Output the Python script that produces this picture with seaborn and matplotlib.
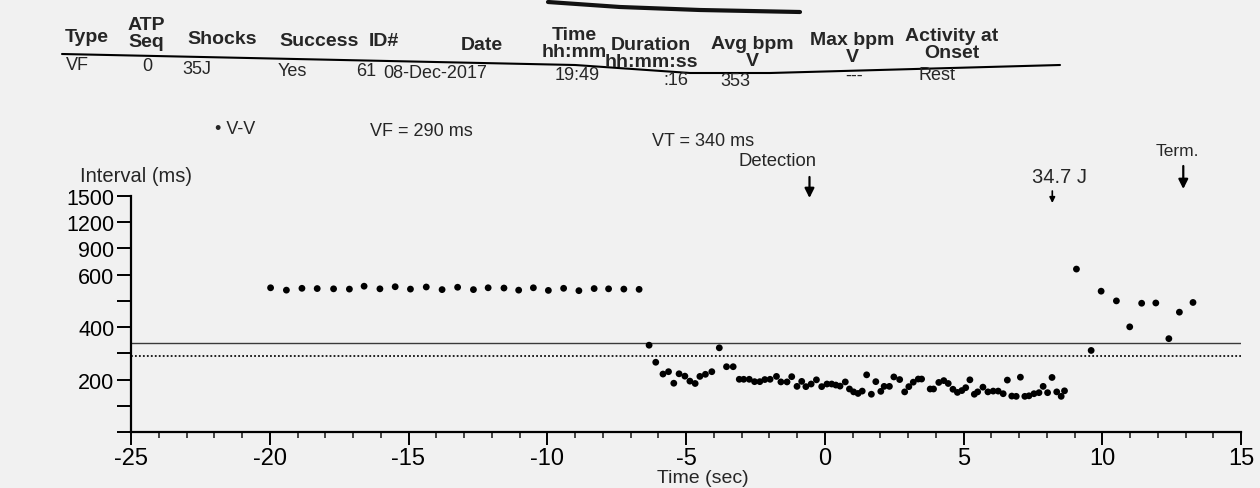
import numpy as np
import pandas as pd
import matplotlib
matplotlib.use("Agg")
import matplotlib.pyplot as plt
import seaborn as sns
from matplotlib.ticker import MultipleLocator, FixedLocator

# ---------------- data ----------------
# pre-episode (sinus) V-V intervals
sinus_t = [-19.97, -19.40, -18.84, -18.29, -17.70, -17.13, -16.60, -16.03, -15.48, -14.93,
           -14.36, -13.79, -13.23, -12.66, -12.13, -11.56, -11.03, -10.50, -9.96, -9.41,
           -8.86, -8.31, -7.79, -7.24, -6.69]
sinus_v = [550, 541, 548, 547, 546, 545, 556, 546, 554, 545,
           553, 543, 552, 543, 550, 549, 541, 550, 540, 548,
           539, 547, 546, 545, 544]

# episode V-V intervals
vt_t = [-6.33, -6.09, -5.83, -5.63, -5.44, -5.25, -5.04, -4.86, -4.67, -4.50,
        -4.30, -4.07, -3.80, -3.54, -3.30, -3.08, -2.92, -2.72, -2.53, -2.34,
        -2.16, -1.97, -1.74, -1.58, -1.36, -1.19, -1.00, -0.83, -0.68, -0.49,
        -0.30, -0.11, 0.08,
        0.25, 0.40, 0.55, 0.74, 0.89, 1.04, 1.20, 1.35, 1.51, 1.68,
        1.84, 2.02, 2.14, 2.33, 2.49, 2.70, 2.88, 3.03, 3.19, 3.37,
        3.49, 3.80, 3.92, 4.11, 4.29, 4.45, 4.62, 4.78, 4.94, 5.08,
        5.23, 5.39, 5.51, 5.70, 5.88, 6.07, 6.25, 6.43, 6.58, 6.74,
        6.90, 7.05, 7.21, 7.36, 7.54, 7.72, 7.87, 8.03, 8.19, 8.36,
        8.52, 8.64]
vt_v = [331, 266, 221, 230, 186, 222, 213, 194, 185, 212,
        220, 230, 321, 249, 249, 201, 201, 201, 192, 192,
        200, 201, 212, 191, 191, 211, 174, 193, 173, 183,
        199, 173, 183,
        183, 179, 175, 191, 164, 153, 147, 156, 218, 144,
        192, 155, 174, 174, 210, 200, 153, 173, 190, 202,
        202, 164, 164, 189, 196, 185, 163, 151, 158, 169,
        199, 144, 153, 171, 153, 156, 156, 146, 198, 137,
        136, 209, 136, 138, 146, 150, 174, 150, 208, 153,
        136, 157]

# post-shock V-V intervals
post_t = [9.07, 9.60, 9.96, 10.51, 10.99, 11.42, 11.93, 12.40, 12.78, 13.27]
post_v = [664, 311, 537, 500, 401, 491, 492, 356, 457, 494]

# zone thresholds (ms)
vt_zone = 340
vf_zone = 290

# event markers
event_labels = ["Detection", "34.7 J", "Term."]
event_t = [-0.55, 8.20, 12.92]

# axis ticks
y_ticks = [0, 100, 200, 300, 400, 500, 600, 900, 1200, 1500]
y_tick_labels = ["", "", "200", "", "400", "", "600", "900", "1200", "1500"]
x_major = [-25, -20, -15, -10, -5, 0, 5, 10, 15]

# episode table
table_headers = ["Type", "ATP\nSeq", "Shocks", "Success", "ID#", "Date",
                 "Time\nhh:mm", "Duration\nhh:mm:ss", "Avg bpm\nV",
                 "Max bpm\nV", "Activity at\nOnset"]
table_values = ["VF", "0", "35J", "Yes", "61", "08-Dec-2017", "19:49", ":16", "353", "---", "Rest"]

# ---------------- style / layout ----------------
BG = "#f1f1f1"
W, H = 1260, 489

sns.set_theme(style="ticks")
plt.rcParams["font.family"] = ["Liberation Sans", "DejaVu Sans"]

fig = plt.figure(figsize=(W / 100, H / 100), dpi=100, facecolor=BG)


def fx(px):
    return px / W


def fy(py):
    return 1 - py / H


AX_L, AX_R, AX_T, AX_B = 131, 1241, 197, 433
ax = fig.add_axes([fx(AX_L), fy(AX_B), (AX_R - AX_L) / W, (AX_B - AX_T) / H])
ax.set_facecolor(BG)


def fwd(v):
    v = np.asarray(v, dtype=float)
    return np.where(v <= 600, v, 600 + (v - 600) / 3.0)


def inv(u):
    u = np.asarray(u, dtype=float)
    return np.where(u <= 600, u, 600 + (u - 600) * 3.0)


ax.set_yscale("function", functions=(fwd, inv))

df = pd.DataFrame({
    "t": sinus_t + vt_t + post_t,
    "v": sinus_v + vt_v + post_v,
})
sns.scatterplot(data=df, x="t", y="v", color="black", s=24, edgecolor="none",
                ax=ax, legend=False, zorder=3)

ax.axhline(vt_zone, color="#3a3a3a", lw=1.0, zorder=2)
ax.axhline(vf_zone, color="#111111", lw=1.3, dashes=(1.0, 1.2), zorder=2)

ax.set_xlim(x_major[0], x_major[-1])
ax.set_ylim(y_ticks[0], y_ticks[-1])
for s in ["top", "right"]:
    ax.spines[s].set_visible(False)
for s in ["left", "bottom"]:
    ax.spines[s].set_linewidth(1.6)
    ax.spines[s].set_color("black")

ax.xaxis.set_major_locator(FixedLocator(x_major))
ax.xaxis.set_minor_locator(MultipleLocator(1))
ax.set_xticklabels([str(v) for v in x_major])
ax.yaxis.set_major_locator(FixedLocator(y_ticks))
ax.yaxis.set_minor_locator(FixedLocator([]))
ax.set_yticklabels(y_tick_labels)
ax.tick_params(axis="x", which="major", length=9, width=1.4, direction="out",
               labelsize=17, pad=2, colors="black")
ax.tick_params(axis="x", which="minor", length=4.5, width=1.2, direction="out")
ax.tick_params(axis="y", which="major", length=10, width=1.4, direction="out",
               labelsize=15.5, pad=2, colors="black")
ax.set_xlabel("")
ax.set_ylabel("")

fig.text(fx(80), fy(176), "Interval (ms)", fontsize=14.5, ha="left", va="center")
fig.text(fx(703), fy(479), "Time (sec)", fontsize=14, ha="center", va="center")

# threshold / legend texts
fig.text(fx(215), fy(130), "\u2022 V-V", fontsize=13, ha="left", va="center")
fig.text(fx(370), fy(132), f"VF = {vf_zone} ms", fontsize=13, ha="left", va="center")
fig.text(fx(652), fy(142), f"VT = {vt_zone} ms", fontsize=13, ha="left", va="center")

# event arrows and labels
trans = ax.get_xaxis_transform()
label_pos = {"Detection": (777, 162), "34.7 J": (1060, 178), "Term.": (1177, 152)}
label_size = {"Detection": 13.3, "34.7 J": 14.5, "Term.": 12.5}
arrow_y = {"Detection": (178, 199), "34.7 J": (192, 204), "Term.": (167, 190)}
for lab, t in zip(event_labels, event_t):
    y0, y1 = arrow_y[lab]
    a0 = (AX_B - y0) / (AX_B - AX_T)
    a1 = (AX_B - y1) / (AX_B - AX_T)
    small = lab == "34.7 J"
    ax.annotate("", xy=(t, a1), xytext=(t, a0), xycoords=trans, textcoords=trans,
                annotation_clip=False,
                arrowprops=dict(arrowstyle="-|>", color="black", lw=1.2 if small else 1.6,
                                mutation_scale=8 if small else 14, shrinkA=0, shrinkB=0))
    lx, ly = label_pos[lab]
    fig.text(fx(lx), fy(ly), lab, fontsize=label_size[lab], ha="center", va="center")

# table header
hdr_pos = [(87, 37), (146, 34), (222, 39), (319, 41), (384, 42), (482, 46),
           (574, 44), (651, 54), (752, 53), (852, 49), (952, 45)]
for txt, (cx, cy) in zip(table_headers, hdr_pos):
    fig.text(fx(cx), fy(cy), txt, fontsize=14, fontweight="bold", ha="center",
             va="center", linespacing=1.0, multialignment="center")

val_pos = [(66, 65, "left"), (147, 67, "center"), (197, 69, "center"), (292, 71, "center"),
           (366, 72, "center"), (435, 73, "center"), (577, 76, "center"), (688, 81, "right"),
           (735, 82, "center"), (854, 76, "center"), (937, 76, "center")]
for txt, (xx, yy, ha) in zip(table_values, val_pos):
    fig.text(fx(xx), fy(yy), txt, fontsize=13, ha=ha, va="center")

# header underline (follows the curved paper)
ux = [62, 575, 690, 770, 1060]
uy = [55, 66, 74, 74, 66]
fig.add_artist(plt.Line2D([fx(v) for v in ux], [fy(v) for v in uy], color="black", lw=1.5))

# paper edge at the top of the photo
ex = [548, 620, 700, 800]
ey = [3, 8, 11, 13]
fig.add_artist(plt.Line2D([fx(v) for v in ex], [fy(v) for v in ey], color="#111111", lw=3.0,
                          solid_capstyle="round"))

fig.savefig("out.png", dpi=100, facecolor=BG)
